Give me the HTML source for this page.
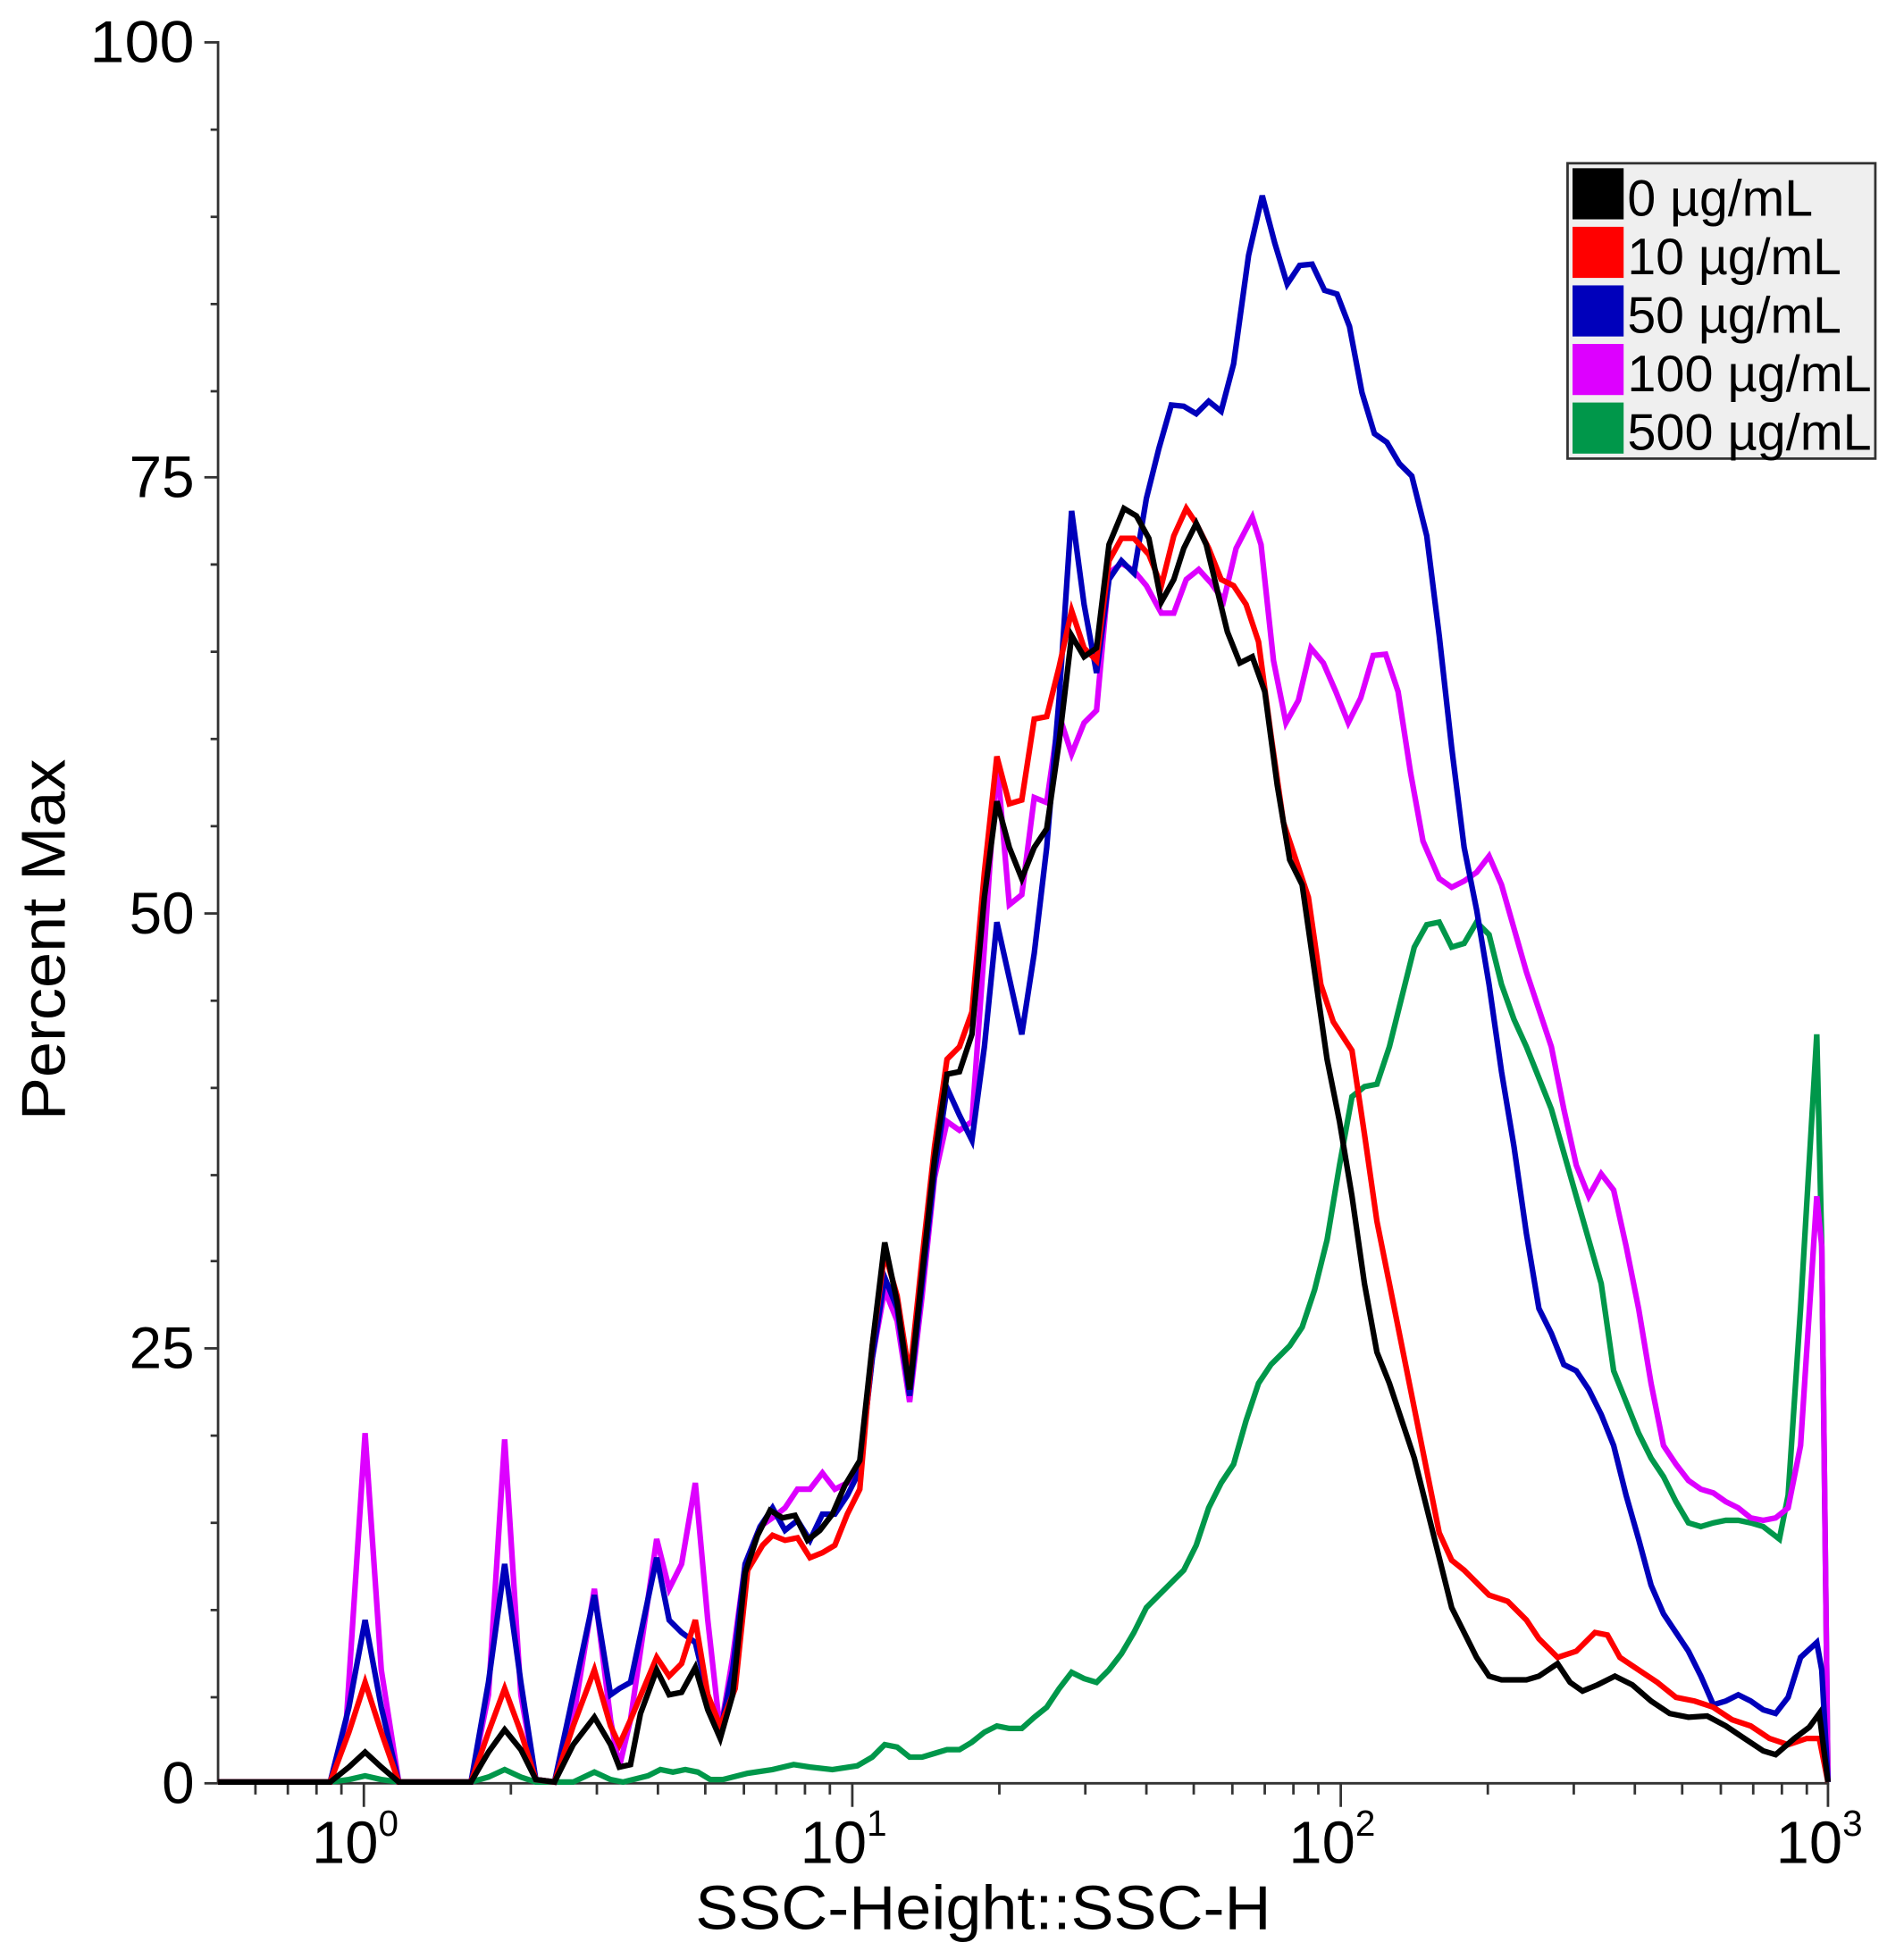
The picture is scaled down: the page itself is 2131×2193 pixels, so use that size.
<!DOCTYPE html>
<html><head><meta charset="utf-8"><style>
html,body{margin:0;padding:0;background:#fff;}
svg{display:block;}
text{font-family:"Liberation Sans",Arial,sans-serif;fill:#000;}
</style></head><body>
<svg width="2131" height="2193" viewBox="0 0 1528 1572" preserveAspectRatio="none" xmlns="http://www.w3.org/2000/svg">
<rect width="1528" height="1572" fill="#fff"/>
<g stroke="#333" stroke-width="2" fill="none">
<line x1="175" y1="33" x2="175" y2="1431"/>
<line x1="175" y1="1431" x2="1468" y2="1431"/>
<line x1="164" y1="34" x2="175" y2="34"/>
<line x1="164" y1="383" x2="175" y2="383"/>
<line x1="164" y1="733" x2="175" y2="733"/>
<line x1="164" y1="1082" x2="175" y2="1082"/>
<line x1="164" y1="1431" x2="175" y2="1431"/>
<path d="M169 104H175M169 174H175M169 244H175M169 314H175M169 453H175M169 523H175M169 593H175M169 663H175M169 803H175M169 873H175M169 943H175M169 1012H175M169 1152H175M169 1222H175M169 1292H175M169 1362H175"/>
<path d="M292 1431V1450M684 1431V1450M1076 1431V1450M1467 1431V1450"/>
<path d="M205 1431V1440M231 1431V1440M254 1431V1440M274 1431V1440M410 1431V1440M479 1431V1440M528 1431V1440M566 1431V1440M597 1431V1440M623 1431V1440M646 1431V1440M666 1431V1440M802 1431V1440M871 1431V1440M920 1431V1440M958 1431V1440M989 1431V1440M1015 1431V1440M1038 1431V1440M1058 1431V1440M1194 1431V1440M1263 1431V1440M1312 1431V1440M1350 1431V1440M1381 1431V1440M1407 1431V1440M1430 1431V1440M1450 1431V1440"/>
</g>
<g font-size="47" text-anchor="end">
<text x="156" y="50" textLength="84" lengthAdjust="spacingAndGlyphs">100</text>
<text x="156" y="399">75</text>
<text x="156" y="749">50</text>
<text x="156" y="1098">25</text>
<text x="156" y="1447">0</text>
</g>
<text font-size="50" transform="translate(52,754) rotate(-90)" text-anchor="middle" textLength="290" lengthAdjust="spacingAndGlyphs">Percent Max</text>
<g font-size="48" text-anchor="middle">
<text x="285" y="1495">10<tspan font-size="29" dy="-22">0</tspan></text>
<text x="677" y="1495">10<tspan font-size="29" dy="-22">1</tspan></text>
<text x="1069" y="1495">10<tspan font-size="29" dy="-22">2</tspan></text>
<text x="1460" y="1495">10<tspan font-size="29" dy="-22">3</tspan></text>
</g>
<text x="558" y="1548" font-size="50" textLength="462" lengthAdjust="spacingAndGlyphs">SSC-Height::SSC-H</text>
<g fill="none" stroke-width="4.5" stroke-linejoin="miter">
<polyline stroke="#00974a" points="175,1430 265,1430 280,1428 293,1425 306,1428 320,1430 378,1430 392,1426 405,1420 418,1426 430,1430 460,1430 477,1422 490,1428 500,1430 520,1425 530,1420 540,1422 550,1420 560,1422 570,1428 580,1428 600,1423 620,1420 637,1416 650,1418 668,1420 688,1417 700,1410 710,1400 720,1402 730,1410 740,1410 750,1407 760,1404 770,1404 780,1398 790,1390 800,1385 810,1387 820,1387 830,1378 840,1370 850,1355 860,1342 870,1347 880,1350 890,1340 900,1327 910,1310 920,1290 930,1280 940,1270 950,1260 960,1240 970,1210 980,1190 990,1175 1000,1140 1010,1110 1020,1095 1035,1080 1045,1065 1055,1035 1065,995 1075,935 1085,880 1095,872 1105,870 1115,840 1125,800 1135,760 1145,742 1155,740 1165,760 1175,757 1185,740 1195,750 1205,790 1215,818 1225,840 1235,865 1245,890 1255,925 1265,960 1275,995 1285,1030 1295,1100 1305,1125 1315,1150 1325,1170 1335,1185 1345,1205 1355,1222 1365,1225 1375,1222 1385,1220 1395,1220 1405,1222 1415,1225 1428,1235 1435,1200 1445,1050 1458,830 1462,1000 1467,1430"/>
<polyline stroke="#dd00ff" points="175,1430 265,1430 278,1380 293,1150 306,1340 320,1430 378,1430 392,1360 405,1155 418,1360 430,1428 445,1430 460,1380 477,1275 490,1380 497,1418 506,1380 527,1235 537,1275 547,1255 558,1190 568,1300 578,1390 588,1330 598,1255 610,1225 620,1218 630,1210 640,1195 650,1195 660,1182 670,1195 680,1190 690,1178 700,1090 710,1035 720,1060 730,1125 740,1040 750,945 760,900 770,907 780,900 790,760 800,610 810,726 820,718 830,640 840,644 850,574 860,605 870,580 880,570 890,460 900,452 910,458 920,470 932,492 942,492 952,465 962,457 972,468 982,482 992,440 1005,415 1012,437 1022,530 1032,580 1042,562 1052,520 1062,532 1072,555 1082,580 1092,560 1102,526 1112,525 1122,555 1132,620 1142,675 1155,705 1165,712 1175,707 1185,700 1195,687 1205,710 1215,745 1225,780 1235,810 1245,840 1255,890 1265,935 1275,960 1285,942 1295,955 1305,1000 1315,1050 1325,1110 1335,1160 1345,1175 1355,1188 1365,1195 1375,1198 1385,1205 1395,1210 1405,1218 1415,1220 1425,1218 1435,1210 1445,1160 1458,960 1462,1000 1467,1430"/>
<polyline stroke="#0000bb" points="175,1430 265,1430 280,1370 293,1300 306,1370 320,1430 378,1430 392,1350 405,1255 418,1350 430,1428 445,1430 460,1360 477,1280 490,1360 497,1355 506,1350 527,1250 537,1300 547,1310 558,1318 568,1360 578,1390 588,1340 598,1255 610,1225 620,1210 630,1228 640,1220 650,1236 660,1215 670,1215 680,1200 690,1180 700,1090 710,1025 720,1050 730,1120 740,1030 750,940 760,873 770,895 780,915 790,840 800,740 810,785 820,830 830,765 840,680 850,560 860,410 870,485 880,540 890,465 900,450 910,460 920,400 930,360 940,325 950,326 960,332 970,322 980,330 990,292 1002,205 1013,157 1023,195 1033,228 1043,213 1053,212 1063,233 1073,236 1083,262 1093,315 1103,348 1113,355 1123,372 1133,382 1145,430 1155,510 1165,600 1175,680 1185,730 1195,790 1205,860 1215,920 1225,990 1235,1050 1245,1070 1255,1095 1265,1100 1275,1115 1285,1135 1295,1160 1305,1200 1315,1235 1325,1272 1335,1295 1345,1310 1355,1325 1365,1345 1375,1368 1385,1365 1395,1360 1405,1365 1415,1372 1425,1375 1435,1362 1445,1330 1458,1318 1462,1340 1467,1430"/>
<polyline stroke="#ff0000" points="175,1430 265,1430 280,1390 293,1350 306,1390 320,1430 378,1430 392,1390 405,1355 418,1390 430,1428 445,1430 460,1385 477,1340 490,1385 497,1400 506,1380 527,1330 537,1345 547,1335 558,1300 568,1360 578,1385 590,1355 600,1260 612,1240 620,1232 630,1236 640,1234 650,1250 660,1246 670,1240 680,1215 690,1195 700,1080 710,1005 720,1040 730,1105 740,1010 750,920 760,850 770,840 780,812 790,700 800,607 810,645 820,642 830,577 840,575 850,535 860,490 870,520 880,530 890,450 900,432 910,432 922,445 932,470 942,430 952,408 960,420 970,440 980,465 990,470 1000,485 1010,515 1020,590 1030,660 1040,690 1050,720 1060,790 1070,820 1085,843 1095,910 1105,980 1115,1030 1125,1080 1135,1130 1145,1180 1155,1230 1165,1252 1175,1260 1185,1270 1195,1280 1210,1285 1225,1300 1235,1315 1250,1330 1265,1325 1280,1310 1290,1312 1300,1330 1315,1340 1330,1350 1345,1362 1360,1365 1375,1370 1390,1380 1405,1385 1420,1395 1435,1400 1450,1395 1460,1395 1467,1430"/>
<polyline stroke="#000000" points="175,1430 265,1430 280,1418 293,1406 306,1418 320,1430 378,1430 392,1406 405,1388 418,1404 430,1428 445,1430 460,1400 477,1378 490,1400 497,1418 506,1416 514,1375 527,1340 537,1360 547,1358 558,1338 568,1372 578,1395 588,1360 598,1262 608,1232 618,1212 628,1218 638,1216 648,1236 658,1228 668,1215 678,1192 690,1172 700,1080 710,997 720,1045 730,1115 740,1022 750,930 760,862 770,860 780,830 790,720 800,643 810,680 820,705 830,680 840,665 850,595 860,510 870,527 880,520 890,437 902,408 912,414 922,432 932,483 942,465 950,440 960,420 968,437 976,470 985,507 995,532 1005,527 1015,555 1025,630 1035,690 1045,710 1055,780 1065,850 1075,900 1085,960 1095,1030 1105,1085 1115,1110 1125,1140 1135,1170 1145,1210 1155,1250 1165,1290 1175,1310 1185,1330 1195,1345 1205,1348 1225,1348 1235,1345 1250,1335 1260,1350 1270,1357 1282,1352 1296,1345 1310,1352 1325,1365 1340,1375 1355,1378 1370,1377 1385,1385 1400,1395 1415,1405 1425,1408 1440,1395 1452,1386 1460,1375 1467,1430"/>
</g>
<rect x="1258" y="131" width="247" height="237" fill="#efefef" stroke="#333" stroke-width="2"/>
<rect x="1262" y="135" width="41" height="41" fill="#000"/>
<rect x="1262" y="182" width="41" height="41" fill="#ff0000"/>
<rect x="1262" y="229" width="41" height="41" fill="#0000bb"/>
<rect x="1262" y="276" width="41" height="41" fill="#dd00ff"/>
<rect x="1262" y="323" width="41" height="41" fill="#00974a"/>
<g font-size="41">
<text x="1306" y="173">0 µg/mL</text>
<text x="1306" y="220">10 µg/mL</text>
<text x="1306" y="267">50 µg/mL</text>
<text x="1306" y="314" textLength="196" lengthAdjust="spacingAndGlyphs">100 µg/mL</text>
<text x="1306" y="361" textLength="196" lengthAdjust="spacingAndGlyphs">500 µg/mL</text>
</g>
</svg>
</body></html>
